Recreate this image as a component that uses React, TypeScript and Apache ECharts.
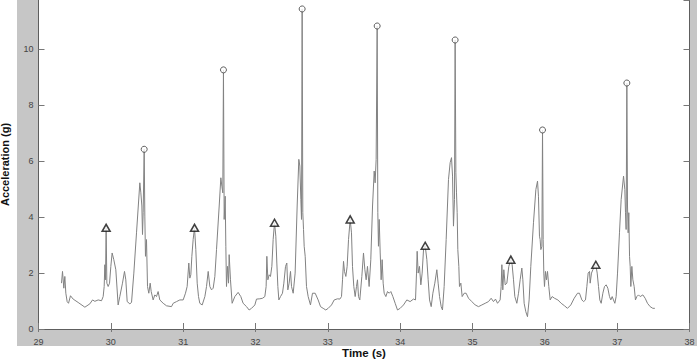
import React, { useEffect, useRef } from "react";
import * as echarts from "echarts";

// Time (s) and acceleration (g) of the signal trace
const timeS: number[] = [
  29.318, 29.332, 29.35, 29.364, 29.378, 29.396, 29.415, 29.442, 29.479, 29.548, 29.641, 29.71, 29.747, 29.779, 29.825, 29.871, 29.894, 29.908, 29.917, 29.926, 29.935, 29.945, 29.963, 29.982,
  30.0, 30.018, 30.041, 30.069, 30.101, 30.124, 30.161, 30.189, 30.207, 30.226, 30.263, 30.286, 30.318, 30.355, 30.401, 30.415, 30.429, 30.438, 30.447, 30.461, 30.47, 30.479, 30.493, 30.507, 30.525, 30.544, 30.558, 30.585, 30.608, 30.631, 30.654, 30.677, 30.724, 30.77, 30.839, 30.862, 30.908, 30.954,
  31.0, 31.032, 31.055, 31.078, 31.092, 31.106, 31.12, 31.138, 31.157, 31.175, 31.194, 31.212, 31.23, 31.263, 31.3, 31.323, 31.346, 31.369, 31.392, 31.415, 31.438, 31.461, 31.498, 31.521, 31.535, 31.548, 31.557, 31.567, 31.581, 31.59, 31.599, 31.613, 31.627, 31.636, 31.654, 31.677, 31.714, 31.76, 31.797, 31.829, 31.876, 31.912, 31.945, 31.991,
  32.014, 32.06, 32.097, 32.129, 32.147, 32.157, 32.171, 32.189, 32.207, 32.226, 32.244, 32.263, 32.281, 32.295, 32.309, 32.323, 32.346, 32.373, 32.392, 32.415, 32.433, 32.447, 32.465, 32.484, 32.498, 32.521, 32.548, 32.576, 32.599, 32.613, 32.627, 32.636, 32.645, 32.654, 32.664, 32.673, 32.687, 32.705, 32.728, 32.76, 32.788, 32.825, 32.866, 32.899, 32.935, 32.972,
  33.005, 33.051, 33.088, 33.134, 33.166, 33.189, 33.203, 33.217, 33.23, 33.249, 33.267, 33.286, 33.309, 33.327, 33.341, 33.359, 33.378, 33.396, 33.41, 33.424, 33.442, 33.47, 33.493, 33.512, 33.53, 33.548, 33.571, 33.594, 33.618, 33.641, 33.654, 33.668, 33.682, 33.691, 33.7, 33.71, 33.724, 33.737, 33.751, 33.765, 33.779, 33.802, 33.825, 33.848, 33.871, 33.899, 33.931, 33.963,
  34.0, 34.046, 34.092, 34.138, 34.184, 34.212, 34.226, 34.235, 34.249, 34.267, 34.286, 34.304, 34.323, 34.346, 34.369, 34.387, 34.406, 34.429, 34.452, 34.479, 34.507, 34.525, 34.544, 34.567, 34.585, 34.608, 34.636, 34.668, 34.691, 34.71, 34.724, 34.737, 34.751, 34.76, 34.77, 34.779, 34.788, 34.797, 34.811, 34.82, 34.839, 34.857, 34.885, 34.912, 34.945, 34.991,
  35.037, 35.083, 35.129, 35.175, 35.221, 35.258, 35.29, 35.318, 35.346, 35.382, 35.396, 35.406, 35.419, 35.433, 35.452, 35.475, 35.502, 35.53, 35.548, 35.567, 35.585, 35.613, 35.636, 35.659, 35.682, 35.696, 35.714, 35.737, 35.76, 35.783, 35.806, 35.843, 35.876, 35.899, 35.912, 35.926, 35.935, 35.945, 35.959, 35.968, 35.977, 35.986, 35.995,
  36.009, 36.023, 36.037, 36.055, 36.074, 36.101, 36.134, 36.18, 36.226, 36.272, 36.313, 36.359, 36.406, 36.452, 36.479, 36.512, 36.535, 36.562, 36.581, 36.599, 36.618, 36.627, 36.645, 36.664, 36.687, 36.705, 36.724, 36.742, 36.76, 36.779, 36.802, 36.825, 36.848, 36.871, 36.894, 36.912, 36.931, 36.949, 36.968, 36.986,
  37.005, 37.032, 37.055, 37.088, 37.106, 37.115, 37.124, 37.134, 37.143, 37.152, 37.161, 37.171, 37.18, 37.189, 37.203, 37.217, 37.235, 37.253, 37.272, 37.295, 37.318, 37.355, 37.387, 37.419, 37.456, 37.493, 37.521,
];
const accelG: number[] = [
  1.64, 2.06, 1.46, 1.88, 1.28, 0.98, 0.92, 1.19, 1.07, 0.95, 0.78, 0.9, 1.04, 0.99, 1.04, 1.01, 1.16, 1.52, 2.3, 1.76, 3.62, 1.64, 1.52, 1.64,
  2.24, 2.72, 2.48, 2.12, 0.86, 1.16, 1.64, 2.06, 1.76, 0.98, 0.9, 0.95, 2.0, 3.44, 5.23, 4.87, 4.4, 3.38, 4.16, 6.43, 4.04, 2.6, 3.2, 1.52, 1.28, 1.64, 1.34, 1.04, 1.22, 1.16, 1.34, 1.04, 0.92, 0.83, 0.8, 0.92, 0.98, 1.04,
  1.04, 1.28, 1.52, 2.36, 1.82, 1.94, 2.6, 3.2, 3.62, 2.84, 1.64, 1.16, 0.92, 0.86, 1.16, 1.52, 2.06, 1.52, 1.4, 1.46, 1.88, 2.84, 4.4, 5.41, 5.11, 4.87, 9.27, 3.92, 4.75, 2.96, 1.52, 2.24, 1.64, 2.66, 1.76, 0.92, 1.16, 1.31, 1.16, 0.92, 0.8, 0.68, 0.74, 0.86,
  1.07, 1.08, 1.1, 1.16, 1.52, 2.6, 1.76, 1.94, 1.88, 2.24, 3.2, 3.8, 3.32, 2.36, 1.52, 1.04, 1.16, 1.28, 1.64, 2.24, 2.36, 1.4, 1.64, 2.06, 1.52, 1.28, 2.0, 4.4, 6.07, 5.83, 4.63, 3.92, 11.45, 4.16, 3.56, 2.96, 2.6, 1.52, 1.16, 0.86, 1.28, 1.28, 1.04, 0.8, 0.74, 0.68,
  0.74, 0.86, 1.04, 1.08, 1.07, 1.16, 1.76, 2.42, 2.06, 1.88, 2.24, 3.2, 3.92, 3.44, 2.24, 1.52, 1.16, 1.52, 1.76, 1.16, 1.04, 1.88, 2.72, 2.12, 1.76, 2.24, 1.52, 2.48, 4.4, 5.65, 5.23, 6.07, 10.84, 4.16, 2.96, 3.92, 2.72, 1.76, 2.48, 1.64, 1.28, 1.16, 1.34, 1.28, 1.34, 1.16, 0.92, 0.68,
  0.74, 0.86, 1.04, 0.98, 1.07, 1.04, 2.0, 2.78, 2.0, 2.24, 1.58, 2.0, 2.84, 2.98, 2.48, 1.76, 1.04, 0.8, 1.28, 1.64, 2.12, 1.64, 1.16, 0.8, 0.68, 1.52, 3.2, 5.35, 5.95, 6.13, 5.47, 3.68, 4.63, 10.34, 5.59, 4.87, 4.16, 2.84, 2.24, 1.52, 1.64, 1.16, 1.28, 1.28, 1.1, 0.98,
  0.86, 0.8, 0.86, 0.92, 0.98, 1.1, 0.98, 1.07, 0.92, 1.04, 1.52, 2.3, 1.4, 2.12, 1.58, 1.64, 2.24, 2.48, 2.3, 1.76, 1.16, 0.92, 1.28, 1.76, 2.18, 1.76, 0.92, 0.62, 0.44, 1.04, 2.24, 3.8, 4.99, 5.29, 4.75, 3.32, 3.2, 2.84, 2.96, 7.12, 3.2, 2.0, 1.52,
  2.06, 1.76, 2.06, 1.52, 1.04, 1.16, 1.1, 1.04, 0.92, 0.83, 0.74, 0.86, 1.1, 1.28, 1.28, 1.04, 0.98, 1.04, 1.52, 2.0, 2.06, 1.64, 2.0, 2.12, 2.24, 2.3, 2.0, 1.52, 1.04, 0.92, 1.28, 1.52, 1.58, 1.46, 1.16, 1.04, 1.16, 1.04, 0.92, 1.16,
  2.0, 3.44, 4.63, 5.47, 4.99, 4.16, 3.56, 8.8, 4.4, 3.44, 4.16, 2.6, 2.24, 1.52, 2.24, 1.76, 1.52, 1.04, 1.16, 1.22, 1.16, 1.22, 1.1, 0.92, 0.8, 0.74, 0.74,
];

// Major peaks (circles)
const majorT: number[] = [30.461, 31.557, 32.645, 33.682, 34.76, 35.968, 37.134];
const majorA: number[] = [6.43, 9.27, 11.45, 10.84, 10.34, 7.12, 8.8];

// Minor peaks (triangles)
const minorT: number[] = [29.935, 31.157, 32.263, 33.309, 34.346, 35.53, 36.705];
const minorA: number[] = [3.62, 3.62, 3.8, 3.92, 2.98, 2.48, 2.3];

const xTicks = { min: 29, max: 38, interval: 1 };
const yTicks = { min: 0, max: 11.77, interval: 2 };

export default function App() {
  const ref = useRef<HTMLDivElement>(null);
  useEffect(() => {
    if (!ref.current) return;
    const chart = echarts.init(ref.current, undefined, { renderer: "svg" });
    const signal = timeS.map((t, i) => [t, accelG[i]]);
    const major = majorT.map((t, i) => [t, majorA[i]]);
    const minor = minorT.map((t, i) => [t, minorA[i]]);
    const axisLineStyle = { color: "#5e5e5e", width: 1 };
    const tickStyle = { color: "#777", width: 1 };
    const labelStyle = {
      color: "#444",
      fontSize: 9,
      fontFamily: "Liberation Sans, Arial, sans-serif",
    };
    const frame = "#c6c6c6";
    chart.setOption({
      animation: false,
      backgroundColor: "#ffffff",
      graphic: [
        { type: "rect", z: 1, shape: { x: 17, y: 0, width: 21.5, height: 346 }, style: { fill: frame } },
        { type: "rect", z: 1, shape: { x: 17, y: 329, width: 680, height: 17 }, style: { fill: frame } },
        { type: "rect", z: 1, shape: { x: 689.5, y: 0, width: 7.5, height: 346 }, style: { fill: frame } },
      ],
      grid: { left: 38.5, right: 7.5, top: 0, bottom: 32, outerBoundsMode: "none" },
      xAxis: [
        {
          type: "value",
          z: 5,
          min: xTicks.min,
          max: xTicks.max,
          interval: xTicks.interval,
          name: "Time (s)",
          nameLocation: "middle",
          nameGap: 18,
          nameMoveOverlap: false,
          nameTextStyle: {
            color: "#111",
            fontSize: 11.5,
            fontWeight: "bold",
            fontFamily: "Liberation Sans, Arial, sans-serif",
          },
          axisLine: { show: true, lineStyle: axisLineStyle },
          axisTick: { show: true, inside: true, length: 6, lineStyle: tickStyle },
          axisLabel: { ...labelStyle, margin: 8 },
          splitLine: { show: false },
        },
        {
          type: "value",
          z: 5,
          position: "top",
          min: xTicks.min,
          max: xTicks.max,
          interval: xTicks.interval,
          axisLine: { show: false },
          axisTick: { show: true, inside: true, length: 3, lineStyle: tickStyle },
          axisLabel: { show: false },
          splitLine: { show: false },
        },
      ],
      yAxis: [
        {
          type: "value",
          z: 5,
          min: yTicks.min,
          max: yTicks.max,
          interval: yTicks.interval,
          name: "Acceleration (g)",
          nameLocation: "middle",
          nameGap: 28.5,
          nameMoveOverlap: false,
          nameTextStyle: {
            color: "#111",
            fontSize: 11,
            fontWeight: "bold",
            fontFamily: "Liberation Sans, Arial, sans-serif",
          },
          axisLine: { show: true, lineStyle: axisLineStyle },
          axisTick: { show: true, inside: true, length: 6, lineStyle: tickStyle },
          axisLabel: { ...labelStyle, margin: 5, showMaxLabel: false },
          splitLine: { show: false },
        },
        {
          type: "value",
          z: 5,
          position: "right",
          min: yTicks.min,
          max: yTicks.max,
          interval: yTicks.interval,
          axisLine: { show: true, lineStyle: axisLineStyle },
          axisTick: { show: true, inside: true, length: 6, lineStyle: tickStyle },
          axisLabel: { show: false },
          splitLine: { show: false },
        },
      ],
      series: [
        {
          type: "line",
          data: signal,
          symbol: "none",
          showSymbol: false,
          lineStyle: { color: "#828282", width: 1 },
          z: 2,
        },
        {
          type: "scatter",
          data: major,
          symbol: "circle",
          symbolSize: 6,
          itemStyle: { color: "#ffffff", borderColor: "#3a3a3a", borderWidth: 1 },
          z: 6,
        },
        {
          type: "scatter",
          data: minor,
          symbol: "triangle",
          symbolSize: [8, 7],
          itemStyle: { color: "#ffffff", borderColor: "#111", borderWidth: 1.5 },
          z: 7,
        },
      ],
    });
    return () => chart.dispose();
  }, []);
  return (
    <div
      ref={ref}
      style={{ position: "fixed", left: 0, top: 0, width: 697, height: 361 }}
    />
  );
}
